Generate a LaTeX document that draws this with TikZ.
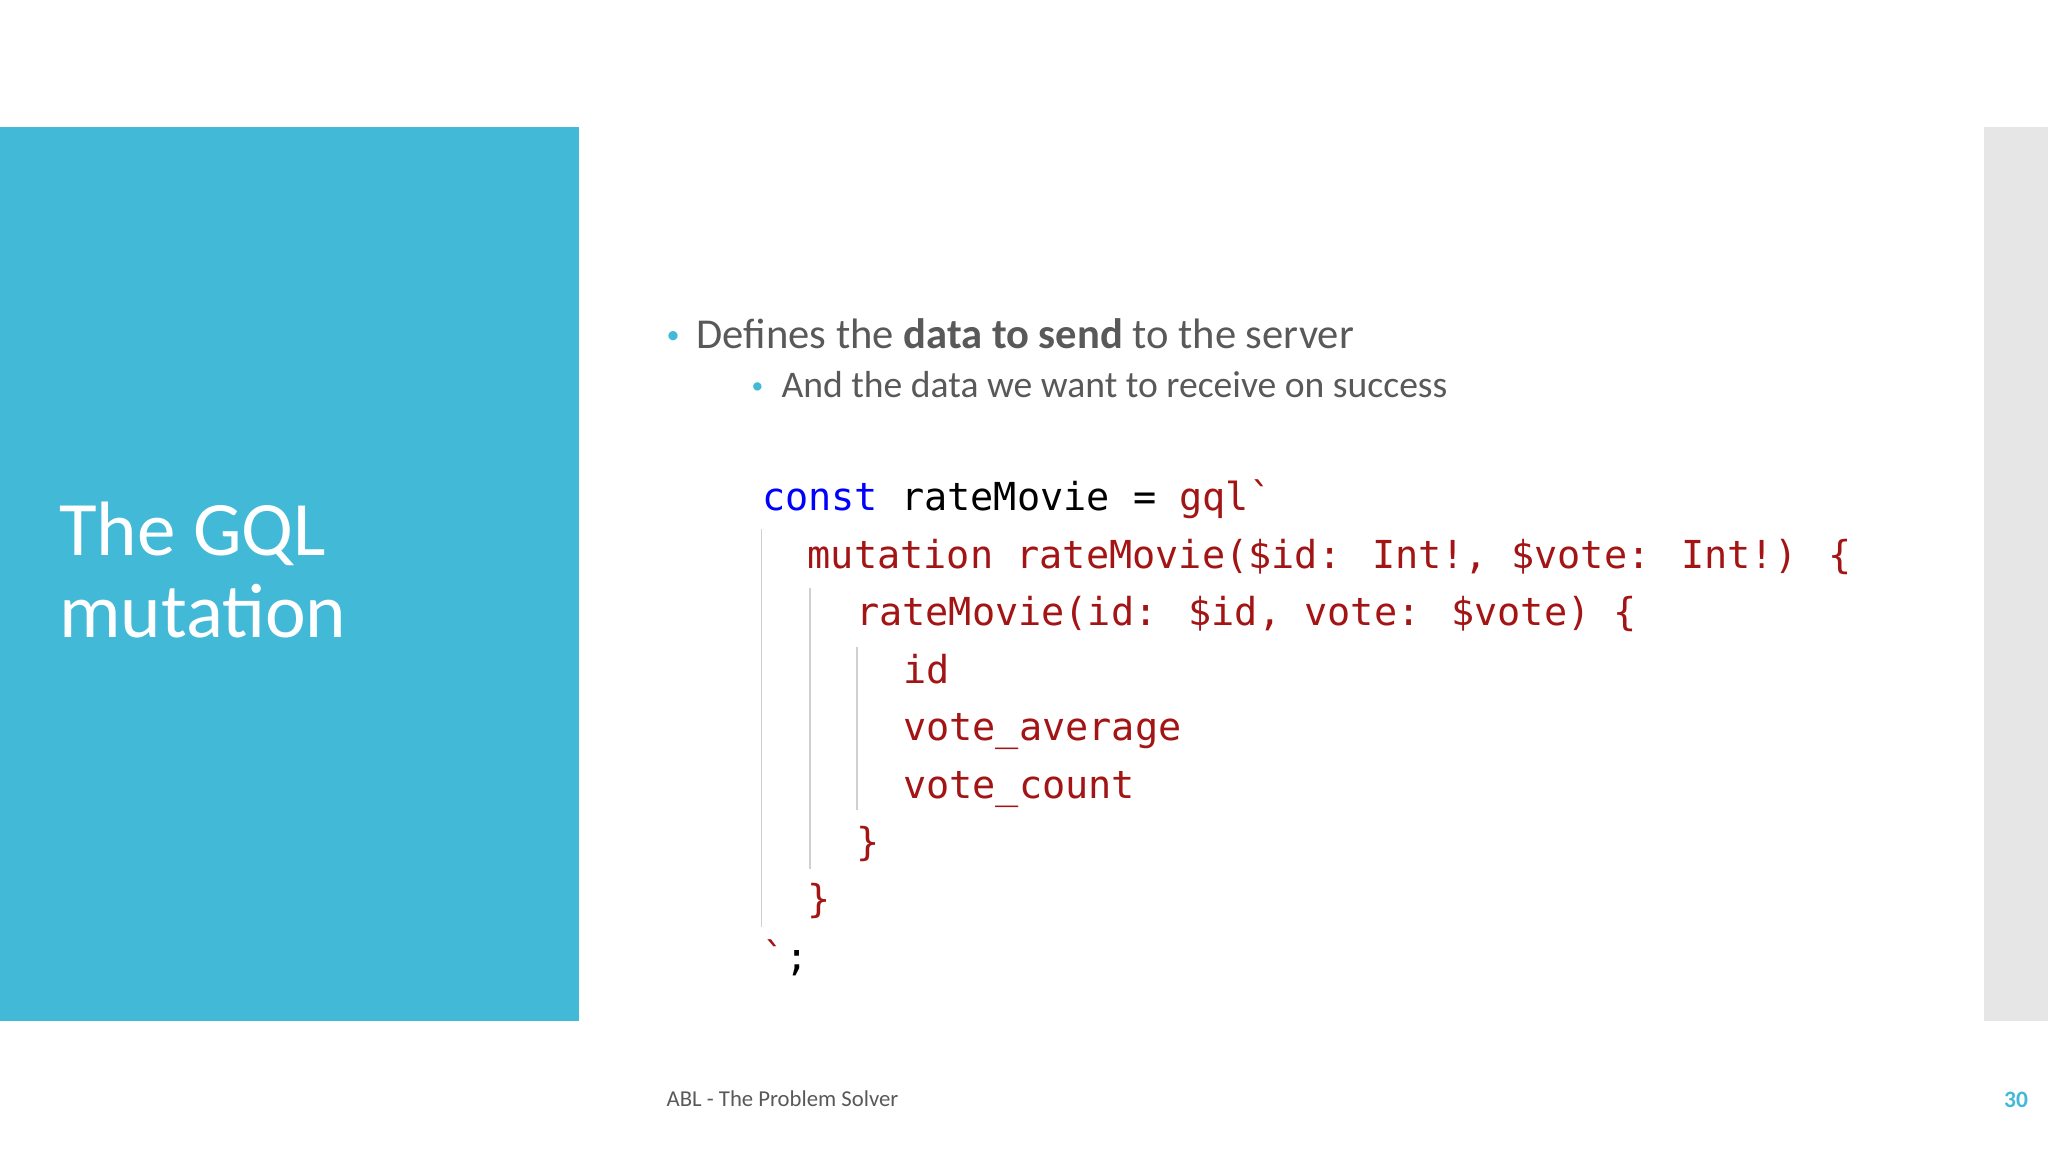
\documentclass[tikz,border=0pt]{standalone}
\usepackage{fontspec}
\setmainfont{Carlito}
\newfontfamily\codefont{DejaVu Sans Mono}
\definecolor{tealblue}{HTML}{42B9D6}
\definecolor{stripgrey}{HTML}{E6E6E6}
\definecolor{bodytext}{HTML}{595959}
\definecolor{kwblue}{HTML}{0000FF}
\definecolor{strred}{HTML}{A31515}
\definecolor{guide}{HTML}{D0D0D0}
\tikzset{
  code/.style={anchor=base west,inner sep=0pt,font=\codefont\fontsize{14.75}{16}\selectfont,text=strred},
  guideline/.style={draw=guide,line width=0.6pt},
  bullet/.style={anchor=base west,inner sep=0pt,text=bodytext}
}
\begin{document}
\begin{tikzpicture}[x=0.5pt,y=-0.5pt]
\useasboundingbox (0,0) rectangle (1568,882);
\fill[white] (0,0) rectangle (1568,882);
\fill[tealblue] (0,97) rectangle (443,782);
\fill[stripgrey] (1519,97) rectangle (1568,782);
\node[anchor=base west,inner sep=0pt,text=white,font=\fontsize{29.5}{32}\selectfont] (title) at (45,425) {The GQL};
\node[anchor=base west,inner sep=0pt,text=white,font=\fontsize{29.5}{32}\selectfont] (title2) at (45,488) {mutation};
\node[bullet,text=tealblue,font=\fontsize{10}{12}\selectfont] (b1) at (510,263) {•};
\node[bullet,font=\fontsize{16.3}{18}\selectfont] (t1) at (533,267) {Defines the \textbf{data to send} to the server};
\node[bullet,text=tealblue,font=\fontsize{9}{12}\selectfont] (b2) at (575,301) {•};
\node[bullet,font=\fontsize{14.4}{16}\selectfont] (t2) at (598,304) {And the data we want to receive on success};
\draw[guideline] (583,405) -- (583,710);
\draw[guideline] (620,450) -- (620,665);
\draw[guideline] (656,495) -- (656,620);
\node[code] (c1) at (583,391) {\textcolor{kwblue}{const} \textcolor{black}{rateMovie =} gql`};
\node[code] (c2) at (618,435) {mutation rateMovie(\$id: Int!, \$vote: Int!) \{};
\node[code] (c3) at (655,479) {rateMovie(id: \$id, vote: \$vote) \{};
\node[code] (c4) at (691,523) {id};
\node[code] (c5) at (691,567) {vote\_average};
\node[code] (c6) at (691,611) {vote\_count};
\node[code] (c7) at (655,655) {\}};
\node[code] (c8) at (618,699) {\}};
\node[code] (c9) at (583,743) {`\textcolor{black}{;}};
\node[anchor=base west,inner sep=0pt,text=bodytext,font=\fontsize{8.7}{10}\selectfont] (foot) at (510,847) {ABL - The Problem Solver};
\node[anchor=base east,inner sep=0pt,text=tealblue,font=\bfseries\fontsize{9}{10}\selectfont] (page) at (1553,848) {30};
\end{tikzpicture}
\end{document}
